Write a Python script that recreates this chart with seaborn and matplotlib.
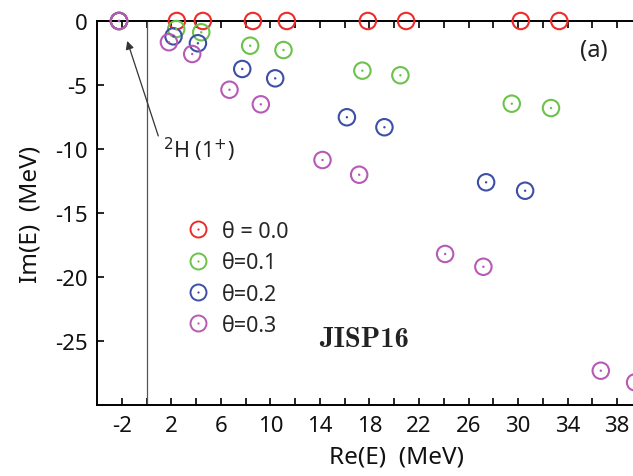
import numpy as np
import pandas as pd
import matplotlib
matplotlib.use("Agg")
import matplotlib.pyplot as plt
import seaborn as sns
from matplotlib.lines import Line2D
from matplotlib.legend_handler import HandlerTuple

# ---- data ----
theta_labels = ["θ = 0.0", "θ=0.1", "θ=0.2", "θ=0.3"]
colors = ["#ee2b2b", "#6cc24a", "#3c4fa6", "#b75ab5"]

re_t0 = [-2.22, 2.45, 4.55, 8.59, 11.33, 17.87, 20.96, 30.22, 33.33]
im_t0 = [0.0, 0.0, 0.0, 0.0, 0.0, 0.0, 0.0, 0.0, 0.0]

re_t1 = [-2.22, 2.40, 4.42, 8.37, 11.06, 17.43, 20.50, 29.49, 32.66]
im_t1 = [0.0, -0.63, -0.88, -1.93, -2.27, -3.88, -4.24, -6.46, -6.80]

re_t2 = [-2.22, 2.18, 4.15, 7.73, 10.39, 16.18, 19.21, 27.42, 30.57]
im_t2 = [0.0, -1.20, -1.74, -3.75, -4.48, -7.52, -8.30, -12.60, -13.26]

re_t3 = [-2.22, 1.81, 3.69, 6.70, 9.23, 14.21, 17.17, 24.11, 27.20, 36.68, 39.45]
im_t3 = [0.0, -1.66, -2.58, -5.37, -6.51, -10.86, -12.01, -18.20, -19.20, -27.32, -28.23]

xticks_major = [-2, 2, 6, 10, 14, 18, 22, 26, 30, 34, 38]
xticks_minor = [0, 4, 8, 12, 16, 20, 24, 28, 32, 36, 40, 42, 44]
yticks = [0, -5, -10, -15, -20, -25]

frames = []
for lab, re, im in zip(theta_labels, [re_t0, re_t1, re_t2, re_t3],
                       [im_t0, im_t1, im_t2, im_t3]):
    frames.append(pd.DataFrame({"re": re, "im": im, "theta": lab}))
df = pd.concat(frames, ignore_index=True)
palette = dict(zip(theta_labels, colors))

sns.set_theme(style="white")
plt.rcParams["font.family"] = ["Noto Sans", "DejaVu Sans"]
plt.rcParams["axes.unicode_minus"] = False

fig = plt.figure(figsize=(6.33, 4.77), dpi=100)
# axes extends past the right edge (the reference is cropped there)
ax = fig.add_axes([0.1532, 0.1488, 0.945, 0.8051])

# vertical line at Re(E)=0
ax.axvline(0, color="#555555", lw=0.9, zorder=1)

# hollow circles
sns.scatterplot(data=df, x="re", y="im", hue="theta", palette=palette,
                s=140, legend=False, ax=ax, clip_on=False, zorder=3)
coll = ax.collections[-1]
fc = coll.get_facecolors()
coll.set_edgecolors(fc)
coll.set_facecolors("none")
coll.set_linewidth(1.5)

# centre dots (not for theta = 0)
dots = df[df["theta"] != theta_labels[0]]
sns.scatterplot(data=dots, x="re", y="im", hue="theta", palette=palette,
                s=3, linewidth=0, legend=False, ax=ax, clip_on=False, zorder=4)

ax.set_xlim(-4, 44.3)
ax.set_ylim(-30, 0)
ax.set_xticks(xticks_major)
ax.set_xticklabels([str(v) for v in xticks_major])
ax.set_xticks(xticks_minor, minor=True)
ax.set_yticks(yticks)
ax.set_yticklabels([str(v) for v in yticks])

for s in ["left", "bottom", "top"]:
    ax.spines[s].set_visible(True)
    ax.spines[s].set_color("black")
    ax.spines[s].set_linewidth(1.4)
ax.spines["right"].set_visible(False)

ax.tick_params(axis="both", which="both", direction="in", length=5, width=1.2,
               color="black", labelsize=16, labelcolor="#111111", pad=7)
ax.tick_params(axis="x", which="both", top=True, bottom=True)
ax.tick_params(axis="y", which="both", left=True, right=False)

ax.set_xlabel("Re(E)  (MeV)", fontsize=17.5, labelpad=6, color="#111111")
ax.set_ylabel("Im(E)  (MeV)", fontsize=17.5, labelpad=9, color="#111111")

# legend
handles = []
for c in colors:
    h1 = Line2D([], [], ls="none", marker="o", ms=11.5, mfc="none", mec=c, mew=1.4)
    h2 = Line2D([], [], ls="none", marker="o", ms=1.6, mfc=c, mec=c, mew=0)
    handles.append((h1, h2))
ax.legend(handles, theta_labels, handler_map={tuple: HandlerTuple(ndivide=1)},
          loc="upper left", bbox_to_anchor=(0.135, 0.502), frameon=False,
          fontsize=15.5, handletextpad=0.55, labelspacing=0.48, handlelength=1.1,
          borderaxespad=0)

# annotations
ax.annotate("", xy=(-1.56, -1.56), xytext=(0.95, -8.98),
            arrowprops=dict(arrowstyle="-|>", color="#333333", lw=0.9,
                            mutation_scale=12, shrinkA=0, shrinkB=0))
ax.text(1.3, -10.0, "$^{2}$H (1$^{+}$)", fontsize=15.5, color="#222222",
        ha="left", va="center")
ax.text(36.1, -2.3, "(a)", fontsize=17, color="#222222", ha="center", va="center")
ax.text(17.57, -24.84, "JISP16", fontsize=20.5, fontweight="bold",
        family="cmb10", color="#222222", ha="center", va="center")

fig.savefig("out.png", dpi=100)
